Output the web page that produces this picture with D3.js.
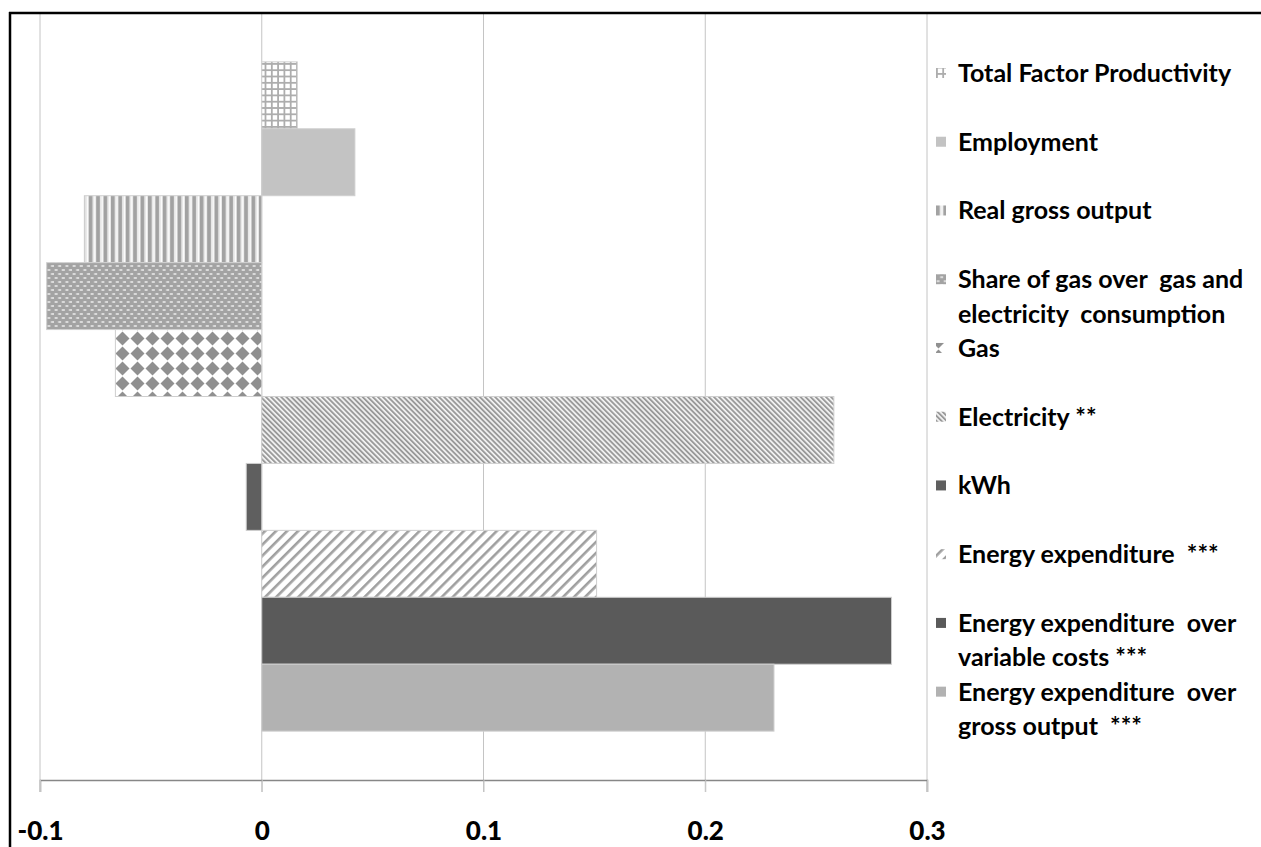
<!DOCTYPE html>
<html>
<head>
<meta charset="utf-8">
<script src="https://cdn.jsdelivr.net/npm/d3@7"></script>
<style>
  body { margin: 0; background: #fff; }
  svg { display: block; }
</style>
</head>
<body>
<svg id="chart"></svg>
<script>
// data
const categories = ["Total Factor Productivity", "Employment", "Real gross output",
  "Share of gas over gas and electricity consumption", "Gas", "Electricity **", "kWh",
  "Energy expenditure ***", "Energy expenditure over variable costs ***",
  "Energy expenditure over gross output ***"];
const values = [0.016, 0.042, -0.080, -0.097, -0.066, 0.258, -0.007, 0.151, 0.284, 0.231];
const legendLines = [
  ["Total Factor Productivity"],
  ["Employment"],
  ["Real gross output"],
  ["Share of gas over  gas and", "electricity  consumption"],
  ["Gas"],
  ["Electricity **"],
  ["kWh"],
  ["Energy expenditure  ***"],
  ["Energy expenditure  over", "variable costs ***"],
  ["Energy expenditure  over", "gross output  ***"]
];
const tickValues = [-0.1, 0, 0.1, 0.2, 0.3];
const tickLabels = ["-0.1", "0", "0.1", "0.2", "0.3"];

// layout
const W = 1261, H = 847;
const plot = {left: 40, right: 927, top: 13, bottom: 780};
const font = "Lato, 'Open Sans', sans-serif";

const svg = d3.select("#chart").attr("width", W).attr("height", H);

const x = d3.scaleLinear().domain([-0.1, 0.3]).range([plot.left, plot.right]);
const y = d3.scaleBand().domain(categories).range([plot.top, plot.bottom])
  .paddingInner(0).paddingOuter(0.73);

// patterns
const defs = svg.append("defs");

let p = defs.append("pattern").attr("id", "pGrid").attr("patternUnits", "userSpaceOnUse")
  .attr("width", 6.3).attr("height", 6.3);
p.append("rect").attr("width", 6.3).attr("height", 6.3).attr("fill", "#fff");
p.append("rect").attr("width", 1.8).attr("height", 6.3).attr("fill", "#adadad");
p.append("rect").attr("width", 6.3).attr("height", 1.8).attr("fill", "#adadad");

p = defs.append("pattern").attr("id", "pVert").attr("patternUnits", "userSpaceOnUse")
  .attr("width", 7.4).attr("height", 10);
p.append("rect").attr("width", 7.4).attr("height", 10).attr("fill", "#e6e6e6");
p.append("rect").attr("x", 0).attr("width", 3.6).attr("height", 10).attr("fill", "#a2a2a2");
p.append("rect").attr("x", 5.4).attr("width", 1).attr("height", 10).attr("fill", "#fff");

p = defs.append("pattern").attr("id", "pBrick").attr("patternUnits", "userSpaceOnUse")
  .attr("width", 7.2).attr("height", 8);
p.append("rect").attr("width", 7.2).attr("height", 8).attr("fill", "#a3a3a3");
p.append("rect").attr("x", 0.6).attr("y", 1.3).attr("width", 3).attr("height", 1.4).attr("fill", "#f2f2f2");
p.append("rect").attr("x", 4.2).attr("y", 5.3).attr("width", 3).attr("height", 1.4).attr("fill", "#f2f2f2");

p = defs.append("pattern").attr("id", "pDiamond").attr("patternUnits", "userSpaceOnUse")
  .attr("width", 15).attr("height", 15).attr("x", 115).attr("y", 331);
p.append("rect").attr("width", 15).attr("height", 15).attr("fill", "#fff");
p.append("path").attr("d", "M7.5,0.5 L14.5,7.5 L7.5,14.5 L0.5,7.5 Z").attr("fill", "#909090");

p = defs.append("pattern").attr("id", "pBack").attr("patternUnits", "userSpaceOnUse")
  .attr("width", 3.6).attr("height", 10).attr("patternTransform", "rotate(-45)");
p.append("rect").attr("width", 3.6).attr("height", 10).attr("fill", "#f4f4f4");
p.append("rect").attr("width", 1.9).attr("height", 10).attr("fill", "#9a9a9a");

p = defs.append("pattern").attr("id", "pFwd").attr("patternUnits", "userSpaceOnUse")
  .attr("width", 7.8).attr("height", 10).attr("patternTransform", "rotate(45)");
p.append("rect").attr("width", 7.8).attr("height", 10).attr("fill", "#fff");
p.append("rect").attr("width", 2.6).attr("height", 10).attr("fill", "#a0a0a0");

const fills = ["url(#pGrid)", "#c3c3c3", "url(#pVert)", "url(#pBrick)", "url(#pDiamond)",
  "url(#pBack)", "#5f5f5f", "url(#pFwd)", "#5a5a5a", "#b2b2b2"];

// gridlines (extend below the axis as tick marks)
svg.append("g")
  .selectAll("line")
  .data(tickValues)
  .join("line")
    .attr("x1", d => x(d)).attr("x2", d => x(d))
    .attr("y1", plot.top).attr("y2", plot.bottom + 12)
    .attr("stroke", "#c4c4c4").attr("stroke-width", 1);

// bars
svg.append("g")
  .selectAll("rect")
  .data(values)
  .join("rect")
    .attr("x", d => x(Math.min(0, d)))
    .attr("width", d => Math.abs(x(d) - x(0)))
    .attr("y", (d, i) => y(categories[i]))
    .attr("height", y.bandwidth())
    .attr("fill", (d, i) => fills[i])
    .attr("stroke", "#cfcfcf").attr("stroke-width", 1);

// x axis
const axis = svg.append("g")
  .attr("transform", `translate(0,${plot.bottom})`)
  .call(d3.axisBottom(x).tickValues(tickValues)
    .tickFormat((d, i) => tickLabels[i]).tickSize(12).tickPadding(30));
axis.select(".domain").attr("stroke", "#878787").attr("stroke-width", 1.5);
axis.selectAll(".tick line").attr("stroke", "#c4c4c4");
axis.selectAll(".tick text")
  .attr("fill", "#000")
  .style("font-family", font)
  .style("font-weight", "900")
  .style("font-size", "26px");

// legend
const slot = 34.37, legTop = 73;
const leg = svg.append("g").selectAll("g")
  .data(legendLines)
  .join("g")
    .attr("transform", (d, i) => `translate(936,${legTop + slot * 2 * i})`);
leg.append("rect")
  .attr("x", 0).attr("y", -5).attr("width", 10).attr("height", 10)
  .attr("fill", (d, i) => fills[i]);
leg.each(function(lines) {
  d3.select(this).selectAll("text")
    .data(lines)
    .join("text")
      .attr("x", 22)
      .attr("y", (t, j) => j * slot)
      .attr("dy", "0.36em")
      .style("white-space", "pre")
      .style("font-family", font)
      .style("font-weight", "bold")
      .style("font-size", "25px")
      .attr("fill", "#000")
      .text(t => t);
});

// outer frame
svg.append("line").attr("x1", 9).attr("x2", W).attr("y1", 13).attr("y2", 13)
  .attr("stroke", "#000").attr("stroke-width", 2.5);
svg.append("line").attr("x1", 10).attr("x2", 10).attr("y1", 12).attr("y2", H)
  .attr("stroke", "#000").attr("stroke-width", 2.5);
</script>
</body>
</html>
